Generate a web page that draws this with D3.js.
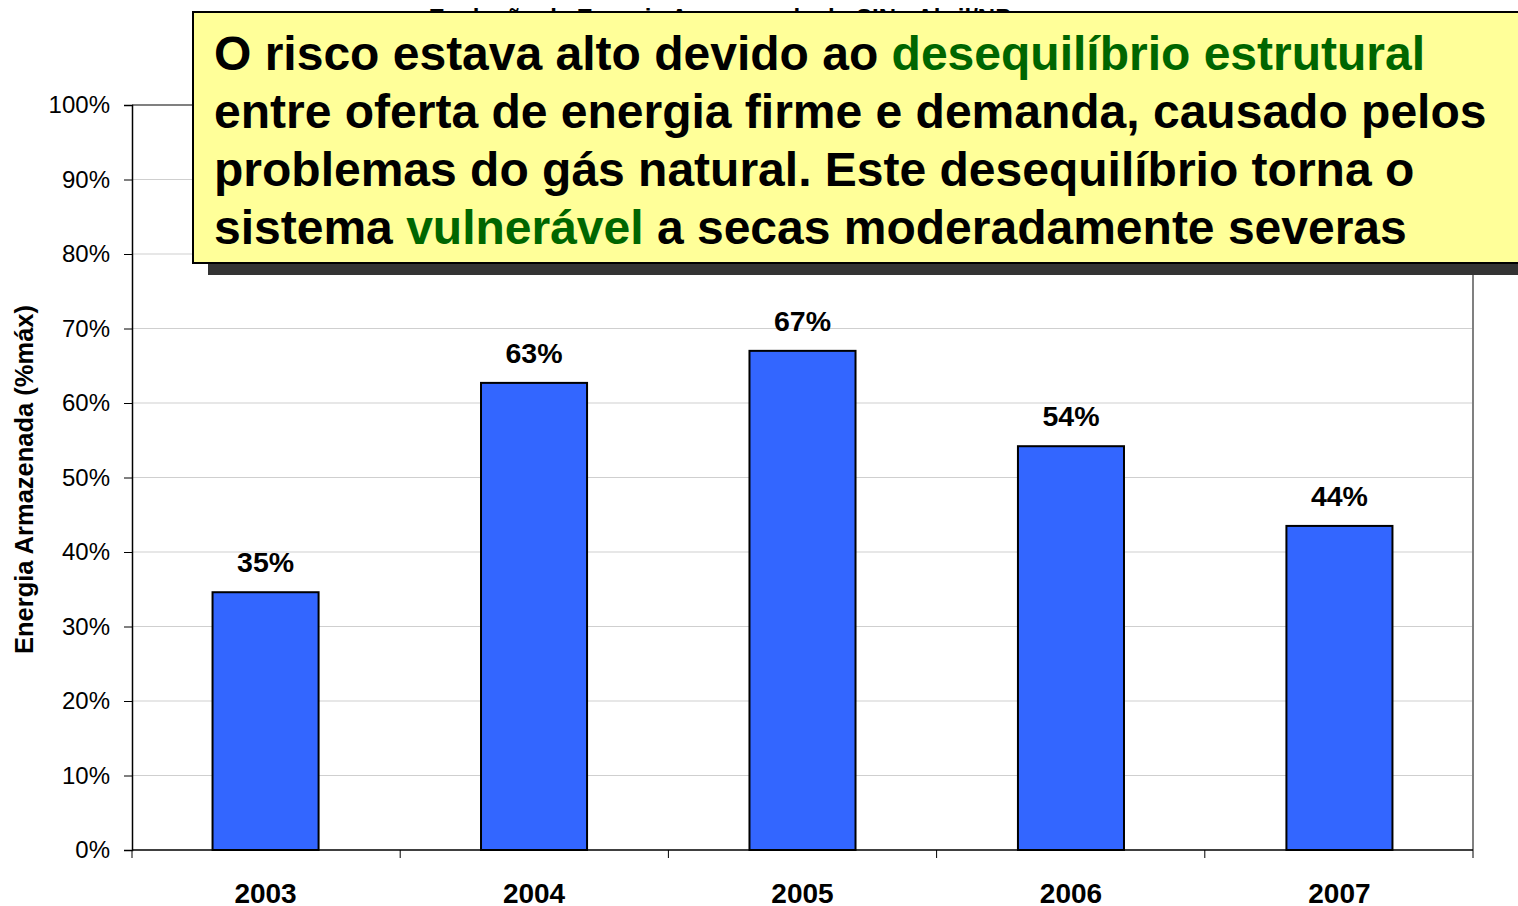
<!DOCTYPE html>
<html>
<head>
<meta charset="utf-8">
<script src="https://cdn.jsdelivr.net/npm/d3@7"></script>
<style>
  body { margin: 0; background: #fff; }
  svg { display: block; font-family: "Liberation Sans", Arial, sans-serif; }
</style>
</head>
<body>
<svg id="chart" width="1518" height="906"></svg>
<script>
// data
const years = ['2003', '2004', '2005', '2006', '2007'];
const stored = [0.346, 0.627, 0.670, 0.542, 0.435];
const valueLabels = ['35%', '63%', '67%', '54%', '44%'];
const yTicks = [0, 0.1, 0.2, 0.3, 0.4, 0.5, 0.6, 0.7, 0.8, 0.9, 1.0];

const svg = d3.select('#chart');
const margin = { top: 105, right: 45, bottom: 56, left: 132 };
const width = +svg.attr('width');
const height = +svg.attr('height');

const x = d3.scaleBand()
    .domain(years)
    .range([margin.left, width - margin.right])
    .paddingInner(0.605)
    .paddingOuter(0.3);

// band used for the category tick marks (edges between categories)
const xEdge = d3.scaleBand()
    .domain(years)
    .range([margin.left, width - margin.right]);

const y = d3.scaleLinear()
    .domain([0, 1])
    .range([height - margin.bottom, margin.top]);

// hidden title behind the callout box
svg.append('text')
    .attr('x', 720)
    .attr('y', 26)
    .attr('text-anchor', 'middle')
    .attr('font-weight', 'bold')
    .attr('font-size', 24)
    .text('Evolução da Energia Armazenada do SIN - Abril/NP');

// gridlines
svg.append('g')
    .selectAll('line')
    .data(yTicks.slice(1))
    .enter().append('line')
    .attr('x1', margin.left)
    .attr('x2', width - margin.right)
    .attr('y1', d => y(d))
    .attr('y2', d => y(d))
    .attr('stroke', '#cfcfcf')
    .attr('stroke-width', 1);

// plot area frame (top + right)
svg.append('path')
    .attr('d', `M${margin.left},${y(1)}H${width - margin.right}V${y(0)}`)
    .attr('fill', 'none')
    .attr('stroke', '#808080')
    .attr('stroke-width', 2);

// bars
svg.append('g')
    .selectAll('rect')
    .data(years)
    .enter().append('rect')
    .attr('x', d => x(d))
    .attr('y', (d, i) => y(stored[i]))
    .attr('width', x.bandwidth())
    .attr('height', (d, i) => y(0) - y(stored[i]))
    .attr('fill', '#3366ff')
    .attr('stroke', '#000')
    .attr('stroke-width', 2);

// value labels
svg.append('g')
    .selectAll('text')
    .data(years)
    .enter().append('text')
    .attr('x', d => x(d) + x.bandwidth() / 2)
    .attr('y', (d, i) => y(stored[i]) - 20)
    .attr('text-anchor', 'middle')
    .attr('font-weight', 'bold')
    .attr('font-size', 28.5)
    .text((d, i) => valueLabels[i]);

// y axis
const yAxis = d3.axisLeft(y)
    .tickValues(yTicks)
    .tickFormat(d3.format('.0%'))
    .tickSize(8)
    .tickPadding(14);

const gy = svg.append('g')
    .attr('transform', `translate(${margin.left},0)`)
    .call(yAxis);
gy.select('.domain').attr('stroke', '#000').attr('stroke-width', 1.5);
gy.selectAll('.tick line').attr('stroke', '#000');
gy.selectAll('.tick text')
    .attr('font-size', 24)
    .attr('font-family', '"Liberation Sans", Arial, sans-serif')
    .attr('fill', '#000');

// x axis with ticks on category edges
const gx = svg.append('g')
    .attr('transform', `translate(0,${y(0)})`);
gx.append('line')
    .attr('x1', margin.left)
    .attr('x2', width - margin.right)
    .attr('stroke', '#000')
    .attr('stroke-width', 1.5);
gx.selectAll('.edge')
    .data(years.concat(['end']))
    .enter().append('line')
    .attr('class', 'edge')
    .attr('x1', (d, i) => i < years.length ? xEdge(d) : width - margin.right)
    .attr('x2', (d, i) => i < years.length ? xEdge(d) : width - margin.right)
    .attr('y1', 0)
    .attr('y2', 8)
    .attr('stroke', '#000');
gx.selectAll('.lbl')
    .data(years)
    .enter().append('text')
    .attr('class', 'lbl')
    .attr('x', d => x(d) + x.bandwidth() / 2)
    .attr('y', 53)
    .attr('text-anchor', 'middle')
    .attr('font-weight', 'bold')
    .attr('font-size', 28)
    .text(d => d);

// y axis title
svg.append('text')
    .attr('transform', `translate(33,${(y(0) + y(1)) / 2 + 2}) rotate(-90)`)
    .attr('text-anchor', 'middle')
    .attr('font-weight', 'bold')
    .attr('font-size', 25.5)
    .text('Energia Armazenada (%máx)');

// callout box with shadow
const box = { x: 193, y: 12, w: 1340, h: 251 };
svg.append('rect')
    .attr('x', box.x + 15)
    .attr('y', box.y + 12)
    .attr('width', box.w)
    .attr('height', box.h)
    .attr('fill', '#333333');
svg.append('rect')
    .attr('x', box.x)
    .attr('y', box.y)
    .attr('width', box.w)
    .attr('height', box.h)
    .attr('fill', '#ffff99')
    .attr('stroke', '#000')
    .attr('stroke-width', 2);

const lines = [
    [['O risco estava alto devido ao ', '#000'], ['desequilíbrio estrutural', '#006600']],
    [['entre oferta de energia firme e demanda, causado pelos', '#000']],
    [['problemas do gás natural. Este desequilíbrio torna o', '#000']],
    [['sistema ', '#000'], ['vulnerável', '#006600'], [' a secas moderadamente severas', '#000']]
];
const callout = svg.append('text')
    .attr('font-weight', 'bold')
    .attr('font-size', 48)
    .attr('xml:space', 'preserve');
lines.forEach((parts, i) => {
    parts.forEach((p, j) => {
        const t = callout.append('tspan')
            .attr('fill', p[1])
            .text(p[0]);
        if (j === 0) t.attr('x', 214).attr('y', 70 + i * 58);
    });
});
</script>
</body>
</html>
